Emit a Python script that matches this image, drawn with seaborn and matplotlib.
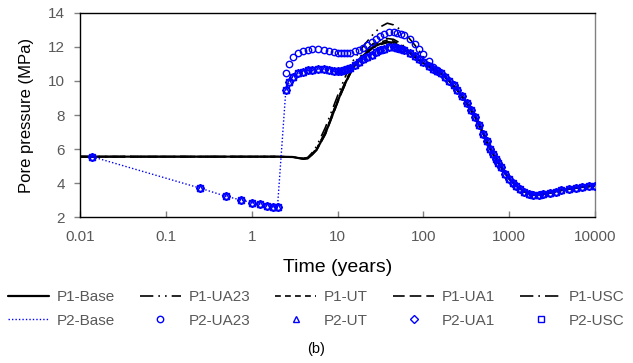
import matplotlib
matplotlib.use("Agg")
import matplotlib.pyplot as plt
import seaborn as sns
import numpy as np
from matplotlib.ticker import FixedLocator, FixedFormatter, NullLocator

# ---------------- data ----------------
p1_t = [0.01, 0.1, 1, 2, 3, 3.5, 4, 4.5, 5, 5.7, 7.2, 8.9, 10.6, 12.8, 15, 20, 26, 32, 38,
        45, 55, 65, 80, 100, 130, 160, 200, 250, 320, 400, 500, 600, 700, 800, 1000, 1200,
        1500, 1900, 2500, 3000, 4000, 5000, 7000, 10000]
p1_tail = [10.7, 10.45, 10.0, 9.45, 8.7, 7.9, 6.9, 6.0, 5.4, 4.95, 4.25, 3.85,
           3.5, 3.3, 3.35, 3.43, 3.57, 3.65, 3.76, 3.84]
p1_base = [5.55, 5.55, 5.55, 5.55, 5.53, 5.47, 5.42, 5.45, 5.65, 5.95, 6.9, 8.1, 9.1, 10.05,
           10.75, 11.5, 12.0, 12.2, 12.3, 12.25, 12.0, 11.75, 11.4, 11.05] + p1_tail
p1_ua23 = [5.55, 5.55, 5.55, 5.55, 5.53, 5.48, 5.45, 5.5, 5.75, 6.15, 7.25, 8.45, 9.45, 10.45,
           11.15, 12.05, 12.75, 13.2, 13.4, 13.3, 13.0, 12.65, 12.1, 11.45] + p1_tail
p1_ut = [5.55, 5.55, 5.55, 5.55, 5.53, 5.47, 5.43, 5.46, 5.67, 5.98, 6.95, 8.15, 9.15, 10.1,
         10.8, 11.6, 12.1, 12.3, 12.4, 12.35, 12.1, 11.8, 11.45, 11.05] + p1_tail
p1_ua1 = [5.55, 5.55, 5.55, 5.55, 5.53, 5.47, 5.42, 5.45, 5.64, 5.93, 6.85, 8.05, 9.05, 10.0,
          10.7, 11.45, 11.95, 12.15, 12.25, 12.2, 11.95, 11.7, 11.4, 11.05] + p1_tail
p1_usc = [5.55, 5.55, 5.55, 5.55, 5.53, 5.48, 5.44, 5.48, 5.7, 6.02, 7.0, 8.2, 9.2, 10.15,
          10.85, 11.65, 12.2, 12.4, 12.5, 12.45, 12.2, 11.85, 11.5, 11.1] + p1_tail

p2_t = [0.0138, 0.25, 0.5, 0.75, 1.0, 1.25, 1.5, 1.75, 2.0, 2.5, 2.75, 3.0, 3.5, 4, 4.5, 5,
        6, 7, 8, 9, 10, 11, 12, 13, 14, 16, 18, 20, 22, 25, 28, 31, 35, 40, 45, 50, 55, 60,
        70, 80, 90, 100, 115, 130, 145, 160, 180, 200, 225, 250, 285, 320, 360, 400, 450,
        500, 550, 600, 650, 700, 750, 800, 900, 1000, 1100, 1200, 1350, 1500, 1700, 1900,
        2200, 2500, 3000, 3500, 4000, 5000, 6000, 7000, 8500, 10000]
p2_early = [5.55, 3.7, 3.22, 3.0, 2.85, 2.75, 2.65, 2.6, 2.6]
p2_late = [10.22, 10.0, 9.75, 9.45, 9.1, 8.7, 8.3, 7.9, 7.4, 6.9, 6.45, 6.0, 5.7, 5.4, 5.15,
           4.95, 4.55, 4.25, 4.02, 3.85, 3.62, 3.48, 3.36, 3.3, 3.31, 3.36, 3.43, 3.5, 3.57,
           3.65, 3.71, 3.76, 3.8, 3.84]
p2_main = p2_early + [9.45, 9.95, 10.25, 10.45, 10.55, 10.62, 10.65, 10.7, 10.68, 10.62, 10.58,
                      10.56, 10.58, 10.62, 10.7, 10.78, 10.95, 11.12, 11.28, 11.4, 11.55, 11.68,
                      11.8, 11.9, 11.98, 12.0, 11.95, 11.88, 11.8, 11.62, 11.45, 11.27, 11.1,
                      10.9, 10.73, 10.6, 10.47] + p2_late
p2_ua23 = p2_early + [10.5, 11.0, 11.4, 11.65, 11.75, 11.85, 11.9, 11.9, 11.85, 11.78, 11.72,
                      11.67, 11.63, 11.62, 11.62, 11.64, 11.75, 11.85, 11.95, 12.1, 12.3, 12.5,
                      12.65, 12.78, 12.87, 12.9, 12.85, 12.78, 12.68, 12.45, 12.2, 11.9, 11.6,
                      11.15, 10.85, 10.65, 10.5] + p2_late
p2_base = p2_main
p2_ut = p2_main
p2_ua1 = p2_main
p2_usc = p2_main

x_ticks = [0.01, 0.1, 1, 10, 100, 1000, 10000]
x_tick_labels = ["0.01", "0.1", "1", "10", "100", "1000", "10000"]
y_ticks = [2, 4, 6, 8, 10, 12, 14]

# ---------------- figure ----------------
sns.set_theme(style="white")
plt.rcParams["font.family"] = ["Liberation Sans", "DejaVu Sans"]

fig = plt.figure(figsize=(6.33, 3.63), dpi=100)
ax = fig.add_axes([80 / 633, 1 - 217 / 363, 515 / 633, 204 / 363])

blue = "#0000FF"

# P1 lines (black)
p1_specs = [
    ("P1-Base", p1_base, "-", 1.6),
    ("P1-UA23", p1_ua23, (0, (8, 3, 1, 3, 1, 3)), 1.2),
    ("P1-UT", p1_ut, (0, (3.5, 2.5)), 1.2),
    ("P1-UA1", p1_ua1, (0, (7, 3)), 1.2),
    ("P1-USC", p1_usc, (0, (8, 3, 1, 3)), 1.2),
]
for lab, vals, ls, lw in p1_specs:
    sns.lineplot(x=p1_t, y=vals, ax=ax, color="black", linestyle=ls, linewidth=lw,
                 label=lab, sort=False, estimator=None, zorder=2)

# P2 base (dotted)
sns.lineplot(x=p2_t, y=p2_base, ax=ax, color=blue, linestyle=(0, (1, 1.5)), linewidth=1.0,
             label="P2-Base", sort=False, estimator=None, zorder=3)

p2_specs = [
    ("P2-UA23", p2_ua23, "o", 4.6),
    ("P2-UT", p2_ut, "^", 4.2),
    ("P2-UA1", p2_ua1, "D", 3.6),
    ("P2-USC", p2_usc, "s", 4.0),
]
for lab, vals, mk, ms in p2_specs:
    sns.lineplot(x=p2_t, y=vals, ax=ax, color=blue, linestyle="", marker=mk,
                 markersize=ms, markerfacecolor="none", markeredgecolor=blue,
                 markeredgewidth=1.0, label=lab, sort=False, estimator=None, zorder=4)

ax.set_xscale("log")
ax.set_xlim(0.01, 10000)
ax.set_ylim(2, 14)
ax.xaxis.set_major_locator(FixedLocator(x_ticks))
ax.xaxis.set_major_formatter(FixedFormatter(x_tick_labels))
ax.xaxis.set_minor_locator(NullLocator())
ax.yaxis.set_major_locator(FixedLocator(y_ticks))

for side in ["left", "bottom", "top"]:
    ax.spines[side].set_color("black")
    ax.spines[side].set_linewidth(1.0)
ax.spines["right"].set_color("#808080")
ax.spines["right"].set_linewidth(1.0)

ax.tick_params(axis="x", direction="in", length=4, width=1, color="#808080",
               labelsize=11, labelcolor="#595959", pad=9, bottom=True)
ax.tick_params(axis="y", direction="out", length=4, width=1, color="#808080",
               labelsize=11, labelcolor="#595959", pad=7, left=True)

ax.set_xlabel("Time (years)", fontsize=14, color="black", labelpad=11)
ax.set_ylabel("Pore pressure (MPa)", fontsize=12, color="black", labelpad=10)

# legend: row 1 P1, row 2 P2 (matplotlib fills column-wise)
handles, labels = ax.get_legend_handles_labels()
ax.get_legend().remove()
order_p1 = ["P1-Base", "P1-UA23", "P1-UT", "P1-UA1", "P1-USC"]
order_p2 = ["P2-Base", "P2-UA23", "P2-UT", "P2-UA1", "P2-USC"]
hmap = dict(zip(labels, handles))
new_h, new_l = [], []
for a, b in zip(order_p1, order_p2):
    new_h += [hmap[a], hmap[b]]
    new_l += [a, b]
leg = fig.legend(new_h, new_l, ncol=5, loc="upper left",
                 bbox_to_anchor=(0.012, 1 - 294 / 363, 0.975, 0.01), mode="expand",
                 frameon=False, fontsize=11, handlelength=2.7, handletextpad=0.5,
                 labelspacing=0.6, borderpad=0, borderaxespad=0, numpoints=1)
for t in leg.get_texts():
    t.set_color("#595959")

fig.text(0.5, 1 - 349 / 363, "(b)", ha="center", va="center", fontsize=10.5, color="black")

fig.savefig("out.png", dpi=100)
